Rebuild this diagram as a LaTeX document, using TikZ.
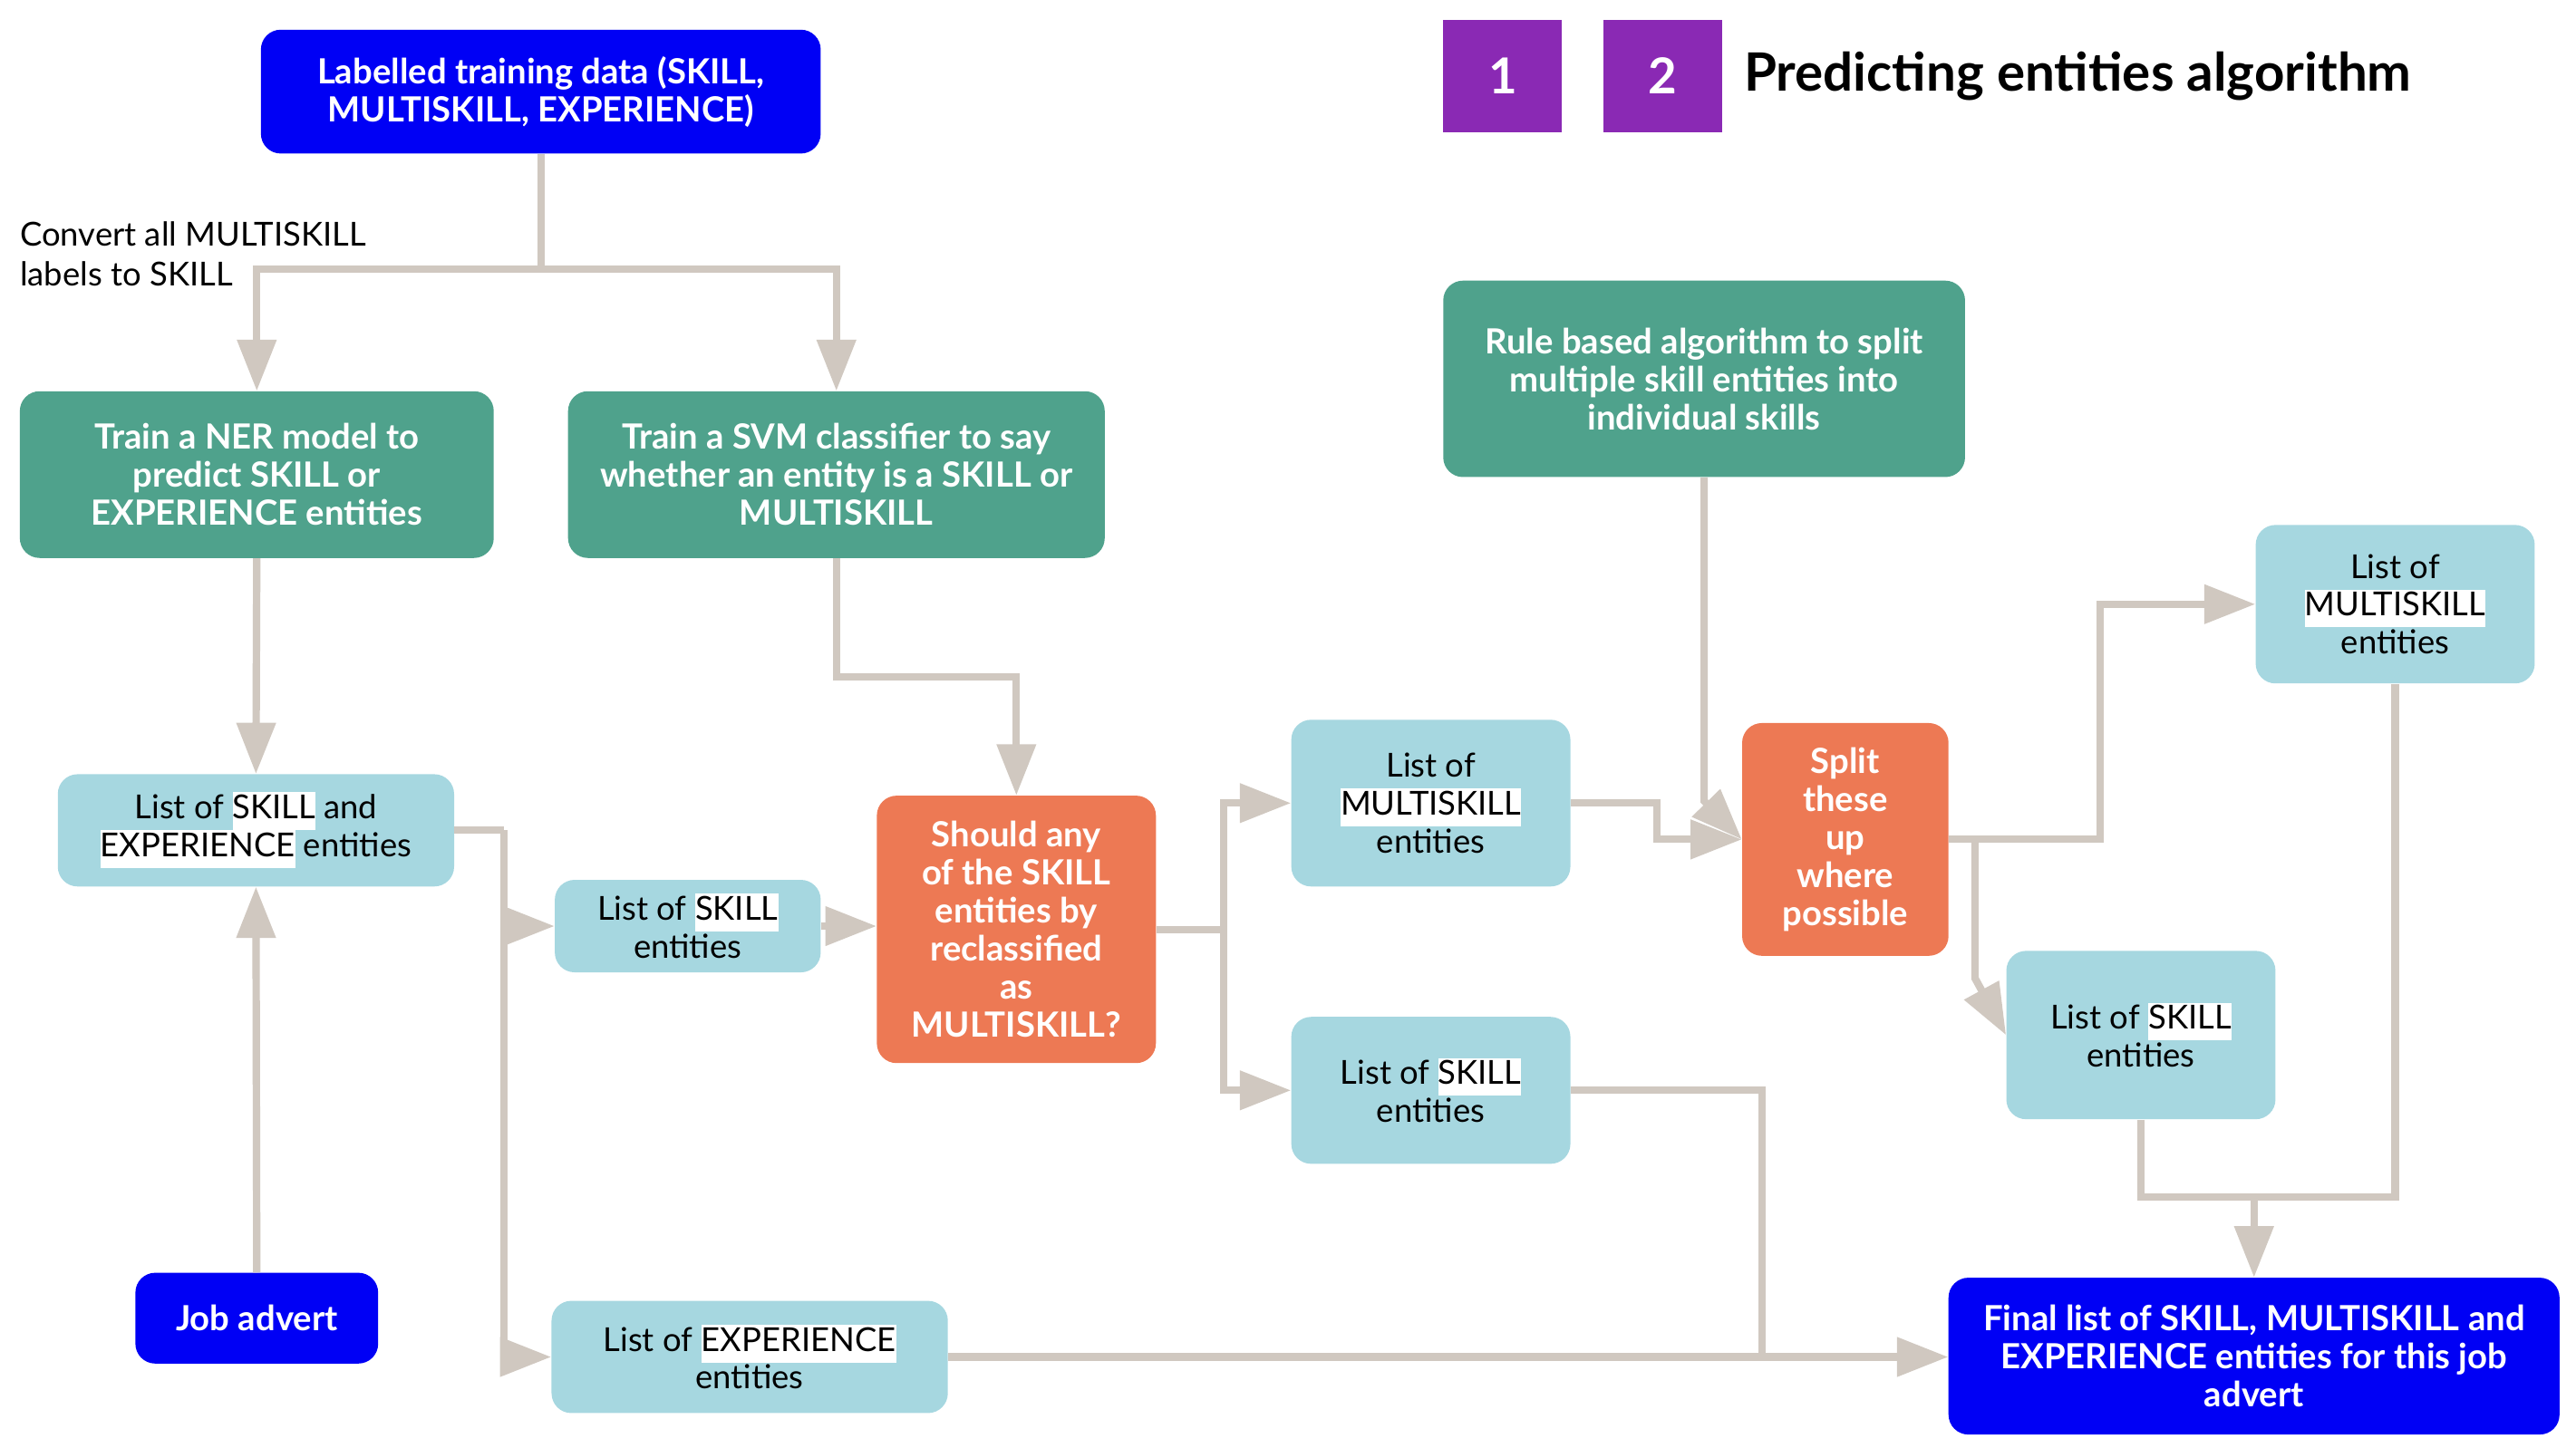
\documentclass[tikz,border=0pt]{standalone}
\usepackage{fontspec}
\setmainfont{Lato}
\usetikzlibrary{arrows.meta}

\definecolor{nblue}{RGB}{0,0,245}
\definecolor{teal}{RGB}{79,162,140}
\definecolor{lblue}{RGB}{166,215,224}
\definecolor{orng}{RGB}{237,121,84}
\definecolor{purp}{RGB}{138,41,180}
\definecolor{wiregray}{RGB}{208,200,192}

% white highlight behind a word
\newcommand{\wbox}[1]{{\setlength{\fboxsep}{0pt}\colorbox{white}{\strut #1}}}

\tikzset{
  box/.style={rectangle,rounded corners=12pt,inner sep=0pt,align=center},
  blubox/.style={box,fill=nblue,text=white,font=\bfseries\fontsize{21}{23}\selectfont},
  grnbox/.style={box,fill=teal,text=white,font=\bfseries\fontsize{21}{23}\selectfont},
  orgbox/.style={box,fill=orng,text=white,font=\bfseries\fontsize{21}{23}\selectfont},
  ltbox/.style={box,fill=lblue,text=black,font=\fontsize{20}{23}\selectfont},
  keybox/.style={rectangle,fill=purp,text=white,inner sep=0pt,minimum width=72pt,minimum height=68pt,font=\bfseries\fontsize{30}{36}\selectfont},
  wire/.style={draw=wiregray,line width=4.5pt},
  conn/.style={wire,-{Triangle[length=31pt,width=23pt]}}
}

\begin{document}
\begin{tikzpicture}[x=1pt,y=1pt,yscale=-1,xscale=1]
\useasboundingbox (0,0) rectangle (1560,877);

% Legend
\node[keybox] (one) at (910,46) {1};
\node[keybox] (two) at (1007,46) {2};
\node[anchor=west,inner sep=0pt,font=\bfseries\fontsize{32}{38}\selectfont] (title) at (1056,46) {Predicting entities algorithm};

% Nodes
\node[blubox,minimum width=339pt,minimum height=75pt] (train) at (327.5,55.5) {Labelled training data (SKILL,\\MULTISKILL, EXPERIENCE)};
\node[anchor=north west,inner sep=0pt,align=left,font=\fontsize{20}{24}\selectfont] (conv) at (12,134) {Convert all MULTISKILL\\labels to SKILL};
\node[grnbox,minimum width=287pt,minimum height=101pt] (ner) at (155.5,287.5) {Train a NER model to\\predict SKILL or\\EXPERIENCE entities};
\node[grnbox,minimum width=325pt,minimum height=101pt] (svm) at (506.5,287.5) {Train a SVM classifier to say\\whether an entity is a SKILL or\\MULTISKILL};
\node[ltbox,minimum width=240pt,minimum height=68pt] (skexp) at (155,503) {List of \wbox{SKILL} and\\\wbox{EXPERIENCE} entities};
\node[blubox,minimum width=147pt,minimum height=55pt] (job) at (155.5,798.5) {Job advert};
\node[ltbox,minimum width=161pt,minimum height=56pt] (skA) at (416.5,561) {List of \wbox{SKILL}\\entities};
\node[orgbox,minimum width=169pt,minimum height=162pt] (ask) at (615.5,563) {Should any\\of the SKILL\\entities by\\reclassified\\as\\MULTISKILL?};
\node[ltbox,minimum width=240pt,minimum height=68pt] (expl) at (454,822) {List of \wbox{EXPERIENCE}\\entities};
\node[ltbox,minimum width=169pt,minimum height=101pt] (msA) at (866.5,486.5) {List of\\\wbox{MULTISKILL}\\entities};
\node[ltbox,minimum width=169pt,minimum height=89pt] (skB) at (866.5,660.5) {List of \wbox{SKILL}\\entities};
\node[grnbox,minimum width=316pt,minimum height=119pt] (rule) at (1032,229.5) {Rule based algorithm to split\\multiple skill entities into\\individual skills};
\node[orgbox,minimum width=125pt,minimum height=141pt] (split) at (1117.5,508.5) {Split\\these\\up\\where\\possible};
\node[ltbox,minimum width=169pt,minimum height=96pt] (msB) at (1450.5,366) {List of\\\wbox{MULTISKILL}\\entities};
\node[ltbox,minimum width=163pt,minimum height=102pt] (skC) at (1296.5,627) {List of \wbox{SKILL}\\entities};
\node[blubox,minimum width=370pt,minimum height=95pt] (final) at (1365,821.5) {Final list of SKILL, MULTISKILL and\\EXPERIENCE entities for this job\\advert};

% Branch points
\coordinate (fork) at (327.5,163);
\coordinate (tapA) at (305,503);
\coordinate (tapB) at (741,563);
\coordinate (mergeA) at (1067,822);
\coordinate (tapC) at (1272,508.5);
\coordinate (tapD) at (1196,508.5);
\coordinate (mergeB) at (1365,725);

% Connectors
\draw[wire] (train.south) -- (fork);
\draw[conn] (fork) -| (ner.north);
\draw[conn] (fork) -| (svm.north);
\draw[conn] (ner.south) -- (skexp.north);
\draw[conn] (job.north) -- (skexp.south);
\draw[wire] (skexp.east) -- (tapA);
\draw[conn] (tapA) |- (skA.west);
\draw[conn] (tapA) |- (expl.west);
\draw[conn] (skA.east) -- (skA.east -| ask.west);
\draw[conn] (svm.south) -- ++(0,72) -| (ask.north);
\draw[wire] (ask.east) -- (tapB);
\draw[conn] (tapB) |- (msA.west);
\draw[conn] (tapB) |- (skB.west);
\draw[conn] (expl.east) -- (expl.east -| final.west);
\draw[wire] (skB.east) -| (mergeA);
\draw[conn] (rule.south) -- ++(0,196) -- (split.west);
\draw[conn] (msA.east) -- ++(52,0) -- ++(0,22) -- (split.west);
\draw[conn] (split.east) -- (tapC) |- (msB.west);
\draw[conn] (tapD) -- ++(0,84) -- (skC.west);
\draw[wire] (skC.south) |- (mergeB) -| (msB.south);
\draw[conn] (mergeB) -- (final.north);

\end{tikzpicture}
\end{document}
